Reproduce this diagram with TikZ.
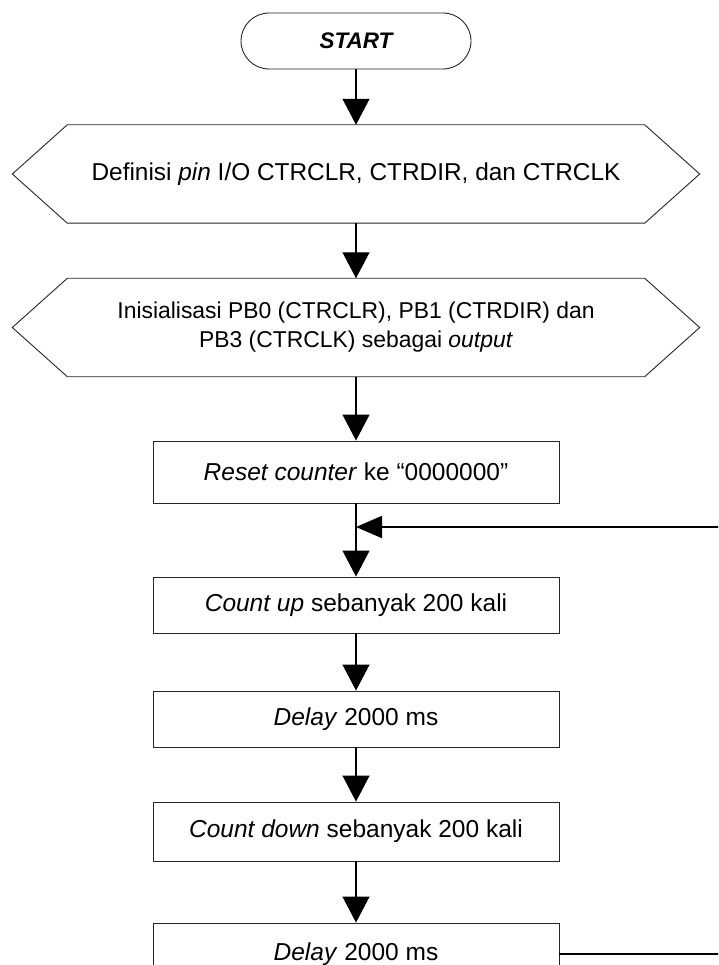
\documentclass[tikz,border=0pt]{standalone}
\usepackage{fontspec}
\setmainfont{Liberation Sans}
\usetikzlibrary{arrows.meta,calc}
\begin{document}
\begin{tikzpicture}[x=1pt,y=-1pt,
  outline/.style={draw=black!85,line width=0.9pt},
  term/.style={outline,rounded corners=28pt,minimum width=230pt,minimum height=56pt,inner sep=0pt,
    font=\fontsize{22.5}{26}\selectfont\bfseries\itshape},
  hexnode/.style={minimum width=687pt,minimum height=98pt,inner sep=0pt,align=center},
  procbox/.style={outline,minimum width=406pt,inner sep=0pt,font=\fontsize{24.5}{28}\selectfont},
  flow/.style={line width=1.1pt,-{Triangle[length=26pt,width=27pt]}},
  back/.style={line width=2pt,-{Triangle[length=26pt,width=22pt]}}
]
\useasboundingbox (0,0) rectangle (718,965);
\clip (0,0) rectangle (718,965);

\node[term] (start) at (356,41) {START};

\node[hexnode,font=\fontsize{24.4}{28}\selectfont] (h1) at (356,174)
  {Definisi \textit{pin} I/O CTRCLR, CTRDIR, dan CTRCLK};
\draw[outline] (h1.west) -- ($(h1.north west)+(55,0)$) -- ($(h1.north east)+(-55,0)$)
  -- (h1.east) -- ($(h1.south east)+(-55,0)$) -- ($(h1.south west)+(55,0)$) -- cycle;

\node[hexnode,font=\fontsize{22.9}{29}\selectfont] (h2) at (356,327.5)
  {Inisialisasi PB0 (CTRCLR), PB1 (CTRDIR) dan\\PB3 (CTRCLK) sebagai \textit{output}};
\draw[outline] (h2.west) -- ($(h2.north west)+(55,0)$) -- ($(h2.north east)+(-55,0)$)
  -- (h2.east) -- ($(h2.south east)+(-55,0)$) -- ($(h2.south west)+(55,0)$) -- cycle;

\node[procbox,minimum height=62pt] (reset) at (356,472) {\textit{Reset counter} ke “0000000”};
\node[procbox,minimum height=56pt] (cu) at (356,605) {\textit{Count up} sebanyak 200 kali};
\node[procbox,minimum height=56pt] (d1) at (356,719) {\textit{Delay} 2000 ms};
\node[procbox,minimum height=59pt] (cd) at (356,831.5) {\textit{Count down} sebanyak 200 kali};
\node[procbox,minimum height=62pt] (d2) at (356,954) {\textit{Delay} 2000 ms};

\coordinate (j) at (356,527);

\draw[flow] (start) -- (h1.north);
\draw[flow] (h1.south) -- (h2.north);
\draw[flow] (h2.south) -- (reset.north);
\draw[flow] (reset.south) -- (cu.north);
\draw[flow] (cu.south) -- (d1.north);
\draw[flow] (d1.south) -- (cd.north);
\draw[flow] (cd.south) -- (d2.north);
\draw[line width=1.4pt] (d2.east) -- ++(200,0) coordinate (far);
\draw[back] (far) |- (j);
\end{tikzpicture}
\end{document}
